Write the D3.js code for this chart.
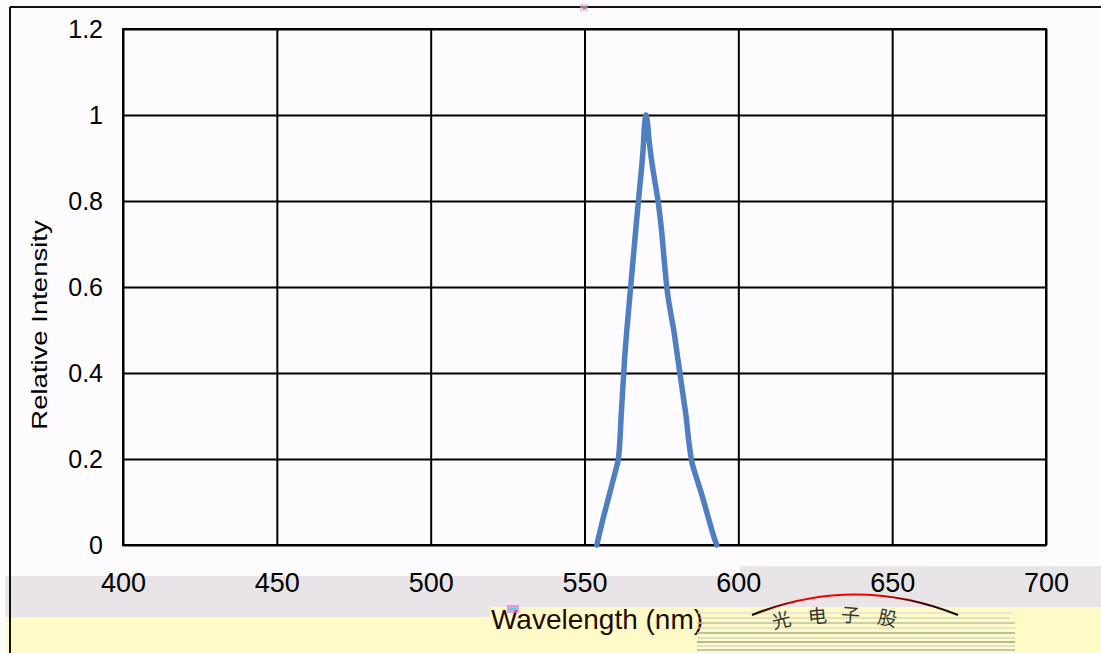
<!DOCTYPE html>
<html><head><meta charset="utf-8">
<script src="https://cdn.jsdelivr.net/npm/d3@7/dist/d3.min.js"></script>
<style>html,body{margin:0;padding:0;background:#fdfbfd;}svg{display:block;}</style>
</head><body>
<svg id="c" width="1101" height="653"></svg>
<script>
// ---- data ----
const wavelength = [554,556,558,560,561,562,563,564,565,566,567,568,569,569.5,570,570.5,571,572,573,574,575,576,577,578,579,580,581,582,583,584,585,586,588,590,592,593];
const intensity  = [0,0.06,0.115,0.17,0.2,0.31,0.43,0.52,0.6,0.68,0.76,0.835,0.915,0.975,1.0,0.98,0.94,0.885,0.84,0.795,0.735,0.655,0.585,0.54,0.5,0.45,0.4,0.35,0.3,0.235,0.19,0.165,0.12,0.07,0.02,0];
const xTicks = [400,450,500,550,600,650,700];
const yTicks = [0,0.2,0.4,0.6,0.8,1,1.2];
const xLabel = "Wavelength (nm)";
const yLabel = "Relative Intensity";

const svg = d3.select("#c");
const font = "'Liberation Sans', Arial, sans-serif";

// ---- background bands (scan artefacts) ----
const bands = [
  {x0:5, x1:490, g0:576, g1:617},
  {x0:490, x1:740, g0:576, g1:607},
  {x0:740, x1:1101, g0:566, g1:607}
];
bands.forEach(b=>{
  svg.append("rect").attr("x",b.x0).attr("y",b.g0).attr("width",b.x1-b.x0).attr("height",b.g1-b.g0).attr("fill","#e8e4e7");
  svg.append("rect").attr("x",b.x0).attr("y",b.g1).attr("width",b.x1-b.x0).attr("height",653-b.g1).attr("fill","#fffac8");
});
// outer frame lines
svg.append("line").attr("x1",10).attr("x2",1101).attr("y1",7).attr("y2",7).attr("stroke","#111").attr("stroke-width",2);
svg.append("line").attr("x1",10).attr("x2",10).attr("y1",7).attr("y2",653).attr("stroke","#111").attr("stroke-width",2);

// ---- chart ----
const L=123, R=1046, T=29, B=545;
const x = d3.scaleLinear().domain([400,700]).range([L,R]);
const y = d3.scaleLinear().domain([0,1.2]).range([B,T]);

// grid
svg.append("g").attr("transform",`translate(0,${B})`)
  .call(d3.axisBottom(x).tickValues(xTicks).tickSize(-(B-T)).tickFormat(""))
  .call(g=>g.select(".domain").remove())
  .call(g=>g.selectAll("line").attr("stroke","#000").attr("stroke-width",2));
svg.append("g").attr("transform",`translate(${L},0)`)
  .call(d3.axisLeft(y).tickValues(yTicks).tickSize(-(R-L)).tickFormat(""))
  .call(g=>g.select(".domain").remove())
  .call(g=>g.selectAll("line").attr("stroke","#000").attr("stroke-width",2));
svg.append("rect").attr("x",L).attr("y",T).attr("width",R-L).attr("height",B-T)
  .attr("fill","none").attr("stroke","#000").attr("stroke-width",2);

// tick labels
svg.append("g").attr("transform",`translate(0,${B})`)
  .call(d3.axisBottom(x).tickValues(xTicks).tickSize(0).tickPadding(28).tickFormat(d3.format("d")))
  .call(g=>g.select(".domain").remove())
  .call(g=>g.selectAll("text").attr("font-family",font).attr("font-size",27).attr("fill","#000"));
svg.append("g").attr("transform",`translate(${L},0)`)
  .call(d3.axisLeft(y).tickValues(yTicks).tickSize(0).tickPadding(20).tickFormat(d=>String(+d.toFixed(1))))
  .call(g=>g.select(".domain").remove())
  .call(g=>g.selectAll("text").attr("font-family",font).attr("font-size",25).attr("fill","#000").attr("dy","0.35em"));

// axis titles
svg.append("text").attr("x",597).attr("y",629).attr("text-anchor","middle")
  .attr("font-family",font).attr("font-size",28).attr("fill","#1e0c04").text(xLabel);
svg.append("text").attr("transform","translate(47,325) rotate(-90) scale(1,0.8)")
  .attr("text-anchor","middle").attr("font-family",font).attr("font-size",27.5).attr("fill","#000").text(yLabel);

// ---- spectrum line ----
const pts = wavelength.map((w,i)=>[w,intensity[i]]);
svg.append("path").datum(pts)
  .attr("d", d3.line().x(d=>x(d[0])).y(d=>y(d[1])).curve(d3.curveCatmullRom.alpha(0.5)))
  .attr("fill","none").attr("stroke","#4f7fc1").attr("stroke-width",5.5)
  .attr("stroke-linecap","round").attr("stroke-linejoin","round");

// ---- stamp artefact ----
const st = svg.append("g");
const stripes = [
  [698,1013,613,"#dfe3cf",2],[700,1010,618,"#c9d1b6",1.5],[697,1015,623,"#b7c1a3",2],
  [697,1015,628,"#d2d8c2",1.5],[697,1015,633,"#a4ae92",2],[697,1015,638,"#c6ccb8",1.5],
  [697,1015,642,"#9aa58a",2],[697,1015,646,"#d8d8d0",2],[697,1015,650,"#b0b8a0",2]
];
stripes.forEach(s=>st.append("line").attr("x1",s[0]).attr("x2",s[1]).attr("y1",s[2]).attr("y2",s[2])
  .attr("stroke",s[3]).attr("stroke-width",s[4]).attr("opacity",0.75));
const grad = svg.append("defs").append("linearGradient").attr("id","arcg");
[["0%","#111"],["25%","#e00"],["60%","#e00"],["85%","#300"],["100%","#111"]].forEach(s=>
  grad.append("stop").attr("offset",s[0]).attr("stop-color",s[1]));
st.append("path").attr("d","M752,615 Q855,574 958,615").attr("fill","none")
  .attr("stroke","url(#arcg)").attr("stroke-width",2.2);
[["光",783,627,-14],["电",818,623,-5],["子",850,622,4],["股",886,625,12]].forEach(c=>
  st.append("text").attr("transform",`translate(${c[1]},${c[2]}) rotate(${c[3]})`)
    .attr("font-family","'Noto Sans CJK SC'").attr("font-size",19).attr("fill","#111")
    .attr("text-anchor","middle").attr("opacity",0.85).text(c[0]));
// small colour specks
st.append("rect").attr("x",507).attr("y",605).attr("width",12).attr("height",8).attr("fill","#e07be0").attr("opacity",0.7);
st.append("rect").attr("x",509).attr("y",608).attr("width",8).attr("height",2).attr("fill","#4cd6d6");
st.append("rect").attr("x",580).attr("y",4).attr("width",8).attr("height",7).attr("fill","#e99be9").attr("opacity",0.6);
st.append("rect").attr("x",583).attr("y",6).attr("width",3).attr("height",3).attr("fill","#30c060");
</script>
</body></html>
